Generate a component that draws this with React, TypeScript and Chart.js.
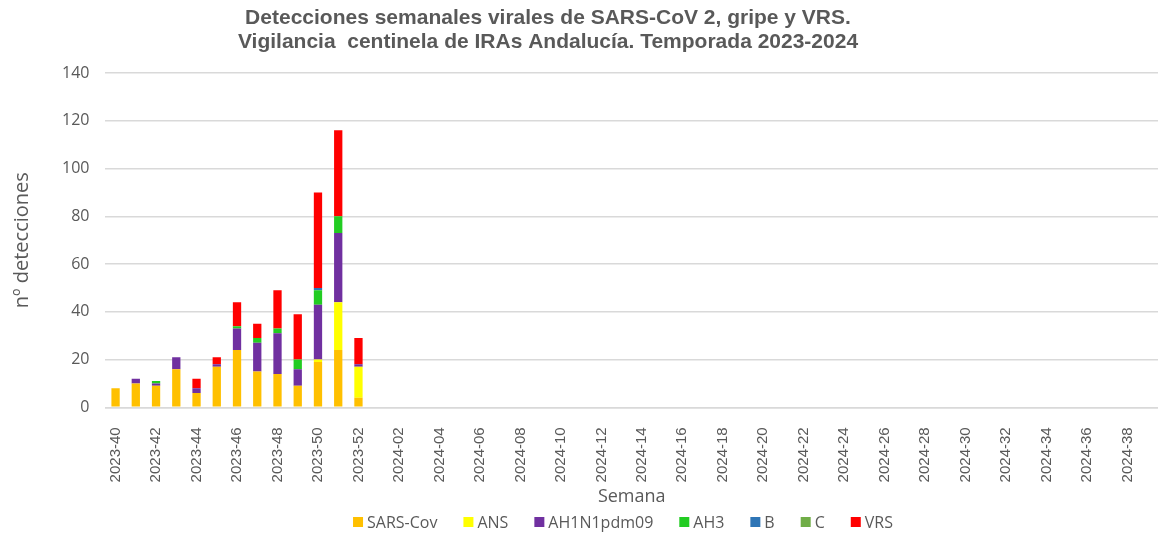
import React, { useEffect, useRef } from "react";
import { Chart, registerables } from "chart.js";

Chart.register(...registerables);

const weeks2023 = ["2023-40","2023-41","2023-42","2023-43","2023-44","2023-45","2023-46","2023-47","2023-48","2023-49","2023-50","2023-51","2023-52"];
const weeks2024 = Array.from({ length: 39 }, (_, i) => `2024-${String(i + 1).padStart(2, "0")}`);
const categories = [...weeks2023, ...weeks2024];

const sarsCov = [8, 10, 9, 16, 6, 17, 24, 15, 14, 9, 19, 24, 4];
const ans = [0, 0, 0, 0, 0, 0, 0, 0, 0, 0, 1, 20, 13];
const ah1n1 = [0, 2, 1, 5, 2, 1, 9, 12, 17, 7, 23, 29, 1];
const ah3 = [0, 0, 1, 0, 0, 0, 1, 2, 2, 4, 6, 7, 0];
const b = [0, 0, 0, 0, 0, 0, 0, 0, 0, 0, 1, 0, 0];
const c = [0, 0, 0, 0, 0, 0, 0, 0, 0, 0, 0, 0, 0];
const vrs = [0, 0, 0, 0, 4, 3, 10, 6, 16, 19, 40, 36, 11];

const seriesNames = ["SARS-Cov", "ANS", "AH1N1pdm09", "AH3", "B", "C", "VRS"];
const seriesColors = ["#FFC000", "#FFFF00", "#7030A0", "#22CC22", "#2E75B6", "#70AD47", "#FF0000"];

const titleLines = [
  "Detecciones semanales virales de SARS-CoV 2, gripe y VRS.",
  "Vigilancia  centinela de IRAs Andalucía. Temporada 2023-2024",
];

const grey = "#595959";
const font = "'Open Sans', 'Liberation Sans', Arial, sans-serif";

const titlePlugin = {
  id: "customTitle",
  afterDraw(chart: any) {
    const ctx = chart.ctx;
    ctx.save();
    ctx.fillStyle = grey;
    ctx.font = "bold 21px 'Liberation Sans', Arial, sans-serif";
    ctx.textAlign = "center";
    ctx.textBaseline = "middle";
    ctx.fillText(titleLines[0], 548, 18);
    ctx.fillText(titleLines[1], 548, 42);
    ctx.restore();
  },
};

const legendPlugin = {
  id: "customLegend",
  afterDraw(chart: any) {
    const ctx = chart.ctx;
    ctx.save();
    ctx.font = `16px ${font}`;
    ctx.textBaseline = "middle";
    ctx.textAlign = "left";
    const box = 10, gapText = 4, gapItem = 26;
    const widths = seriesNames.map((n) => ctx.measureText(n).width);
    const total = widths.reduce((a, w) => a + box + gapText + w, 0) + gapItem * (seriesNames.length - 1);
    let x = 623 - total / 2;
    const y = 522;
    seriesNames.forEach((n, i) => {
      ctx.fillStyle = seriesColors[i];
      ctx.fillRect(x, y - box / 2, box, box);
      ctx.fillStyle = grey;
      ctx.fillText(n, x + box + gapText, y + 1);
      x += box + gapText + widths[i] + gapItem;
    });
    ctx.restore();
  },
};

export default function App() {
  const ref = useRef<HTMLCanvasElement>(null);
  useEffect(() => {
    if (!ref.current) return;
    const allData = [sarsCov, ans, ah1n1, ah3, b, c, vrs];
    const chart = new Chart(ref.current, {
      type: "bar",
      data: {
        labels: categories,
        datasets: seriesNames.map((label, i) => ({
          label,
          data: allData[i],
          backgroundColor: seriesColors[i],
          borderWidth: 0,
          barPercentage: 0.41,
          categoryPercentage: 1,
        })),
      },
      options: {
        animation: false,
        responsive: false,
        layout: { padding: { top: 73, right: -6, left: 10, bottom: 28 } },
        plugins: {
          title: { display: false },
          tooltip: { enabled: false },
          legend: { display: false },
        },
        scales: {
          x: {
            stacked: true,
            grid: { display: false },
            border: { color: "#d9d9d9", width: 1.5 },
            afterFit: (scale: any) => {
              scale.paddingRight = 0;
              scale.paddingLeft = 0;
              scale.height -= 18;
            },
            title: {
              display: true,
              text: "Semana",
              color: grey,
              font: { family: font, size: 18 },
              padding: { top: 10, bottom: 0 },
            },
            ticks: {
              autoSkip: false,
              minRotation: 90,
              maxRotation: 90,
              color: grey,
              font: { family: "'Liberation Sans', Arial, sans-serif", size: 15 },
              padding: 12,
              callback: (_v: any, i: number) => (i % 2 === 0 ? categories[i] : ""),
            },
          },
          y: {
            stacked: true,
            min: 0,
            max: 140,
            grid: { color: "#d9d9d9", lineWidth: 1.5, drawTicks: false },
            border: { display: false },
            title: {
              display: true,
              text: "nº detecciones",
              color: grey,
              font: { family: font, size: 20 },
              padding: { top: 0, bottom: 12 },
            },
            ticks: {
              stepSize: 20,
              color: grey,
              font: { family: font, size: 16 },
              padding: 16,
            },
          },
        },
      },
      plugins: [titlePlugin, legendPlugin],
    });
    return () => chart.destroy();
  }, []);
  return (
    <div style={{ position: "absolute", left: 0, top: 0, width: 1158, height: 536, background: "#fff", overflow: "hidden" }}>
      <canvas ref={ref} width={1158} height={536} style={{ display: "block" }} />
    </div>
  );
}
